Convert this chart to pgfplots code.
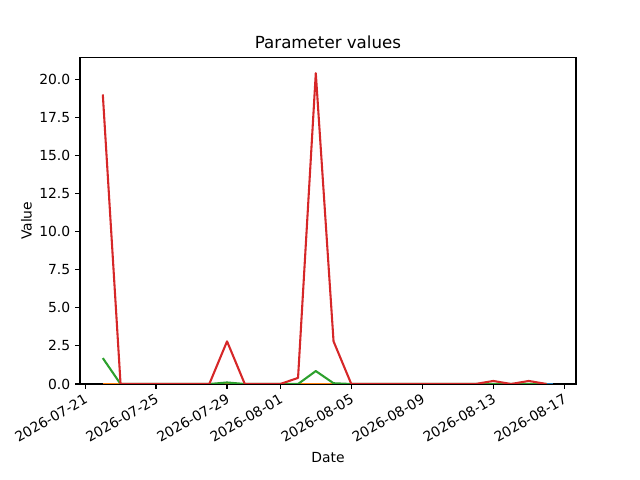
\documentclass[border=0pt]{standalone}
\usepackage{pgfplots}
\pgfplotsset{compat=1.18}
\usepackage{fontspec}
\setmainfont{DejaVu Sans}
\definecolor{C0}{HTML}{1F77B4}
\definecolor{C1}{HTML}{FF7F0E}
\definecolor{C2}{HTML}{2CA02C}
\definecolor{C3}{HTML}{D62728}
\begin{document}
\begin{tikzpicture}
\useasboundingbox (0,0) rectangle (460.8pt,345.6pt);
\begin{axis}[
  at={(57.6pt,69.12pt)}, anchor=south west,
  scale only axis, width=357.12pt, height=235.008pt,
  xmin=-0.285, xmax=27.66, ymin=0, ymax=21.42,
  axis line style={line width=0.8pt},
  tick style={black, line width=0.8pt},
  tick align=outside, major tick length=3.5pt,
  xtick={0,4,8,11,15,19,23,27},
  xticklabels={2026-07-21,2026-07-25,2026-07-29,2026-08-01,2026-08-05,2026-08-09,2026-08-13,2026-08-17},
  xticklabel style={rotate=30, anchor=north east, font=\fontsize{10}{12}\selectfont, inner sep=1pt, yshift=-1pt, xshift=-1.5pt},
  ytick={0,2.5,5,7.5,10,12.5,15,17.5,20},
  yticklabel style={font=\fontsize{10}{12}\selectfont},
  /pgf/number format/assume math mode=true,
  /pgf/number format/.cd, fixed, fixed zerofill, precision=1, /pgfplots/.cd,
  xtick pos=bottom, ytick pos=left,
  title={Parameter values}, title style={font=\fontsize{12}{14}\selectfont, yshift=-3.5pt},
  xlabel={Date}, ylabel={Value},
  label style={font=\fontsize{10}{12}\selectfont},
  xlabel style={yshift=-2pt},
  ylabel style={yshift=-1.5pt},
  every axis plot/.append style={line width=1.5pt, line join=round},
  clip=true,
]
\addplot[C0, no markers] coordinates {(1,0) (26.39,0)};
\addplot[C1, no markers] coordinates {(1,0) (26,0)};
\addplot[C2, no markers] coordinates {
(1,1.7) (2,0) (3,0) (4,0) (5,0) (6,0) (7,0) (8,0.1) (9,0) (10,0) (11,0) (12,0) (13,0.85) (14,0.05) (15,0) (16,0) (17,0) (18,0) (19,0) (20,0) (21,0) (22,0) (23,0) (24,0) (25,0) (26,0)};
\addplot[C3, no markers] coordinates {
(1,19.0) (2,0) (3,0) (4,0) (5,0) (6,0) (7,0) (8,2.8) (9,0) (10,0) (11,0) (12,0.4) (13,20.4) (14,2.8) (15,0) (16,0) (17,0) (18,0) (19,0) (20,0) (21,0) (22,0) (23,0.2) (24,0) (25,0.2) (26,0)};
\end{axis}
\end{tikzpicture}
\end{document}
